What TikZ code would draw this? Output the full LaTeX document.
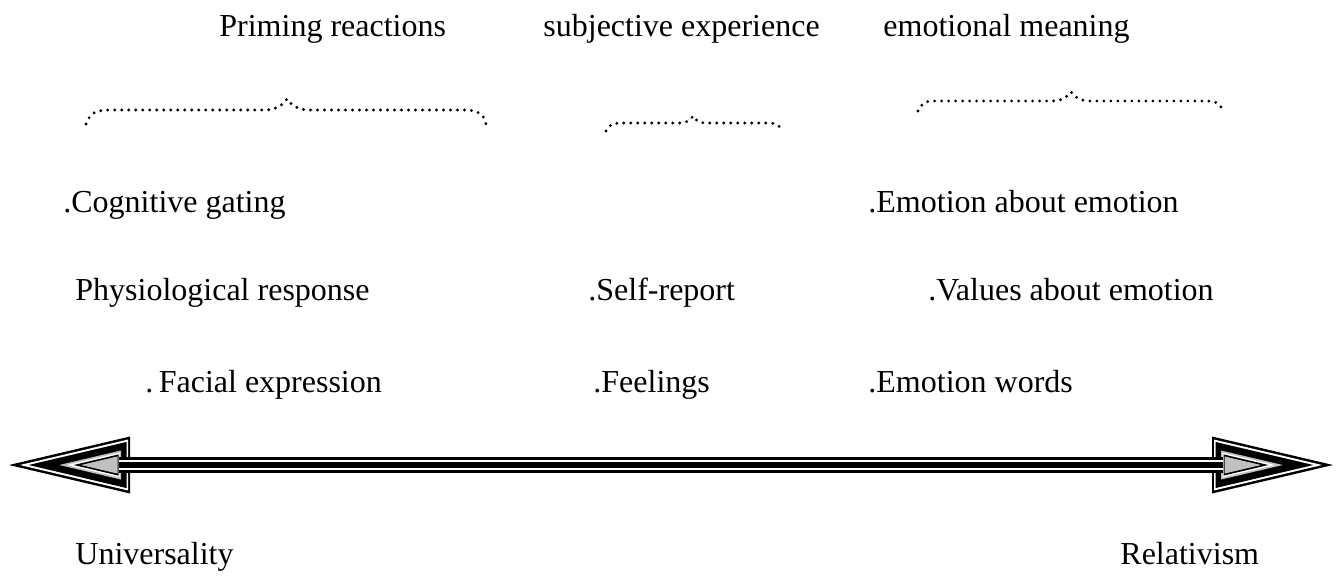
\documentclass[tikz,border=0pt]{standalone}
\usepackage{fontspec}
\setmainfont{Liberation Serif}
\begin{document}
\begin{tikzpicture}[x=0.5pt,y=-0.5pt,
  lbl/.style={anchor=base west,inner sep=0pt,font=\fontsize{16}{19}\selectfont},
  dotbrace/.style={line width=1.6pt,line cap=round,dash pattern=on 0pt off 3.5pt}]
\definecolor{silverg}{RGB}{192,192,192}
\useasboundingbox (0,0) rectangle (1338,578);

% column headings
\node[lbl] (prim) at (219,36) {Priming reactions};
\node[lbl] (subj) at (543,36) {subjective experience};
\node[lbl] (mean) at (883,36) {emotional meaning};

% dotted braces under the headings
\draw[dotbrace] (86,124) .. controls (90,113) and (96,110) .. (110,110) -- (265,110)
  .. controls (278,110) and (284,103) .. (287,99)
  .. controls (290,103) and (296,110) .. (309,110) -- (464,110)
  .. controls (478,110) and (484,114) .. (486,124);
\draw[dotbrace] (606,131) .. controls (609,125) and (613,123) .. (620,123) -- (680,123)
  .. controls (688,123) and (691,119) .. (693,116)
  .. controls (695,119) and (698,123) .. (706,123) -- (768,123)
  .. controls (775,123) and (779,125) .. (781,129);
\draw[dotbrace] (918,111) .. controls (921,104) and (925,101) .. (933,101) -- (1052,101)
  .. controls (1063,101) and (1068,96) .. (1071,92)
  .. controls (1074,96) and (1079,101) .. (1090,101) -- (1207,101)
  .. controls (1214,101) and (1219,103) .. (1221,107);

% items
\node[lbl] (cog) at (63,212) {.Cognitive gating};
\node[lbl] (emo) at (868,212) {.Emotion about emotion};
\node[lbl] (phys) at (75,300) {Physiological response};
\node[lbl] (self) at (588,300) {.Self-report};
\node[lbl] (val) at (928,300) {.Values about emotion};
\node[lbl] (fac) at (145,392) {.\hspace{0.17em}Facial expression};
\node[lbl] (feel) at (593,392) {.Feelings};
\node[lbl] (words) at (868,392) {.Emotion words};

% double-headed scale arrow: nested triangles for each head
\newcommand{\layeredhead}{%
  \foreach \d/\b/\c in {0/0/black,2.5/2/white,4.5/3.5/black,11.5/9/silverg,13.3/10.5/white,14.8/11.5/black,16.5/12.5/silverg}{
    \fill[\c] ({\d/0.229},0) -- ({121-\b},{-(0.2355*(121-\b)-\d/0.973)})
      -- ({121-\b},{0.2355*(121-\b)-\d/0.973}) -- cycle;
  }}
\begin{scope}[shift={(9,465)}]
  \layeredhead
\end{scope}
\begin{scope}[shift={(1333,465)},xscale=-1]
  \layeredhead
\end{scope}
% shaft of three black bands
\coordinate (shaftL) at (119,465);
\coordinate (shaftR) at (1223,465);
\fill[black] ([yshift=4pt]shaftL) rectangle ([yshift=-4pt]shaftR);
\fill[white] ([yshift=2.6pt]shaftL) rectangle ([yshift=1.6pt]shaftR);
\fill[white] ([yshift=-1.6pt]shaftL) rectangle ([yshift=-2.6pt]shaftR);

% ends of the scale
\node[lbl] (univ) at (75,564) {Universality};
\node[lbl] (rel) at (1120,564) {Relativism};
\end{tikzpicture}
\end{document}
